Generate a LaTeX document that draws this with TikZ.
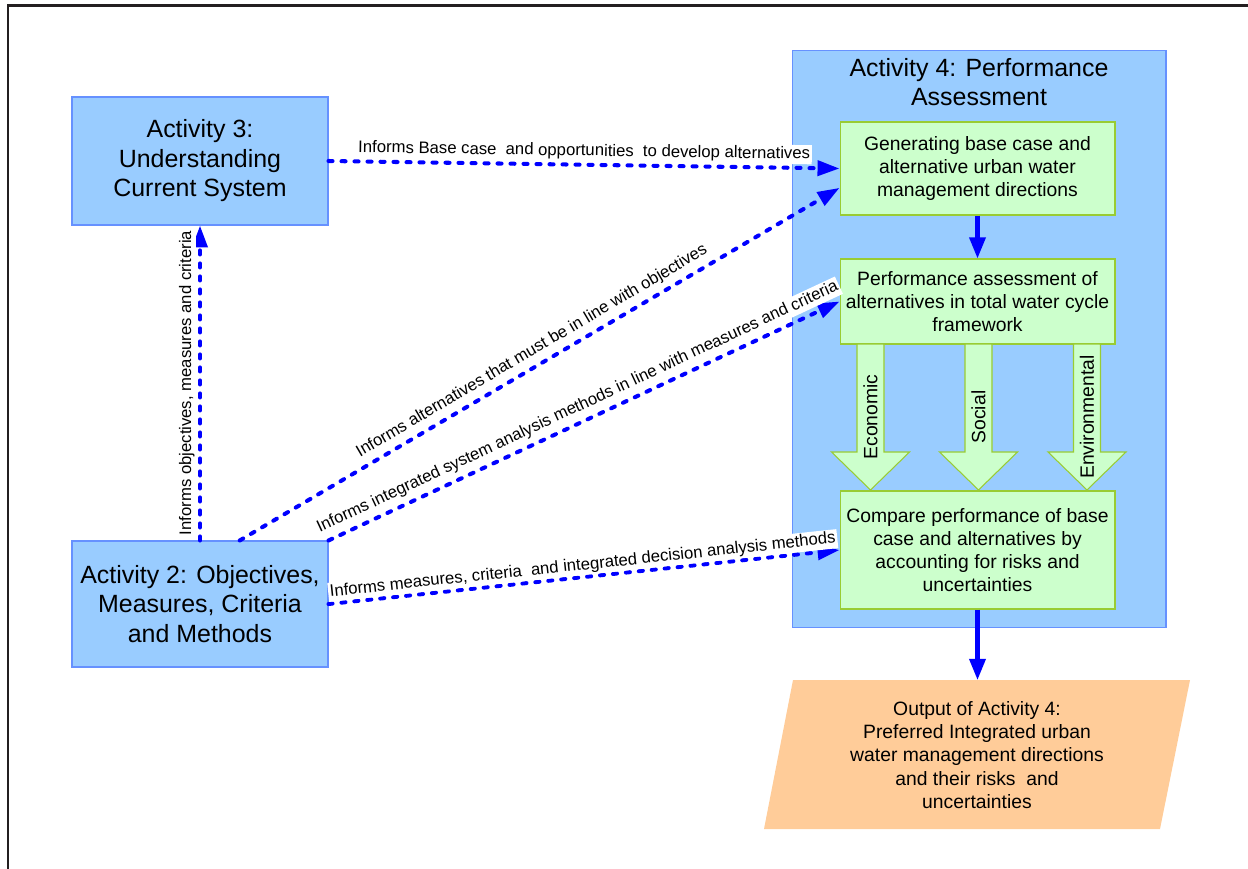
\documentclass[tikz,border=0pt]{standalone}
\usepackage{fontspec}
\setmainfont{Liberation Sans}
\usetikzlibrary{arrows.meta}
\definecolor{boxblue}{RGB}{153,204,255}
\definecolor{lineblue}{RGB}{102,145,255}
\definecolor{boxgreen}{RGB}{204,255,204}
\definecolor{linegreen}{RGB}{153,204,51}
\definecolor{outorange}{RGB}{255,204,153}
\newcommand{\bigtxt}{\fontsize{14.2}{16.8}\selectfont}
\newcommand{\midtxt}{\fontsize{11}{13.2}\selectfont}
\newcommand{\smalltxt}{\fontsize{9.5}{11}\selectfont}

\begin{document}
\begin{tikzpicture}[x=0.02cm,y=-0.02cm,
    bluebox/.style={draw=lineblue, fill=boxblue, line width=0.6pt, align=center, font=\bigtxt},
    greenbox/.style={draw=linegreen, fill=boxgreen, line width=0.6pt, align=center, font=\midtxt,
      minimum width=5.5cm},
    infoarrow/.style={draw=blue, line width=2.3pt, line cap=round, dash pattern=on 2.3pt off 5.1pt,
      -{Triangle[width=8.5pt,length=12.5pt]}},
    flowarrow/.style={draw=blue, line width=2.3pt, -{Triangle[width=9pt,length=12pt]}},
    infolabel/.style={fill=white, inner sep=1pt, font=\smalltxt, sloped},
    fatarrow/.style={draw=linegreen, fill=boxgreen, line width=0.6pt}]
\useasboundingbox (0,0) rectangle (1248,869);
% frame
\draw[color={rgb,255:red,35;green,31;blue,32}, line width=1.3pt] (8,869) -- (8,5.5) -- (1248,5.5);

\node[bluebox, minimum width=5.12cm, minimum height=2.56cm] at (200,161) (act3)
  {Activity 3:\\Understanding\\Current System};
\node[bluebox, minimum width=5.12cm, minimum height=2.52cm] at (200,604) (act2)
  {Activity 2: Objectives,\\Measures, Criteria\\and Methods};
\node[bluebox, minimum width=7.48cm, minimum height=11.56cm] at (979,339) (act4) {};
\node[font=\bigtxt, align=center] at (979,82) (act4title) {Activity 4: Performance\\Assessment};

\node[greenbox, minimum height=1.86cm] at (977.5,168.5) (gen)
  {Generating base case and\\alternative urban water\\management directions};
\node[greenbox, minimum height=1.7cm] at (977.5,301.5) (perf)
  {Performance assessment of\\alternatives in total water cycle\\framework};
\node[greenbox, minimum height=2.36cm] at (977.5,550) (comp)
  {Compare performance of base\\case and alternatives by\\accounting for risks and\\uncertainties};

% the three fat arrows
\foreach \cx/\name/\txt in {870.5/econ/Economic, 978.5/soc/Social, 1087/env/Environmental}{
  \draw[fatarrow] (\cx-13.5,344) -- (\cx-13.5,452) -- (\cx-39,452) -- (\cx,490)
    -- (\cx+39,452) -- (\cx+13.5,452) -- (\cx+13.5,344) -- cycle;
  \node[rotate=90, font=\midtxt] at (\cx,417) (\name) {\txt};
}

% output
\fill[outorange] (793,680) -- (1190,680) -- (1160,829) -- (764,829) -- cycle;
\coordinate (outtop) at (977.5,680);
\node[align=center, font=\midtxt] at (977,755) (out)
  {Output of Activity 4:\\Preferred Integrated urban\\water management directions\\and their risks\ \ and\\uncertainties};

\draw[flowarrow] (gen.south) -- (perf.north);
\draw[flowarrow] (comp.south) -- (outtop);

\draw[infoarrow] (act3.east) -- (gen.west)
  node[infolabel, above=1pt, pos=0.5] {Informs Base case\ \ and opportunities\ \ to develop alternatives};
\draw[infoarrow] (act2.58) -- (gen.188)
  node[infolabel, above=2pt, pos=0.5] {Informs alternatives that must be in line with objectives};
\draw[infoarrow] (act2.north east) -- (perf.west)
  node[infolabel, above=2pt, pos=0.5] {Informs integrated system analysis methods in line with measures and criteria};
\draw[infoarrow] (act2.east) -- (comp.west)
  node[infolabel, above=0pt, pos=0.5] {Informs measures, criteria\ \ and integrated decision analysis methods};
\draw[infoarrow] (act2.north) -- (act3.south)
  node[infolabel, above=1pt, pos=0.5] {Informs objectives, measures and criteria};
\end{tikzpicture}
\end{document}
